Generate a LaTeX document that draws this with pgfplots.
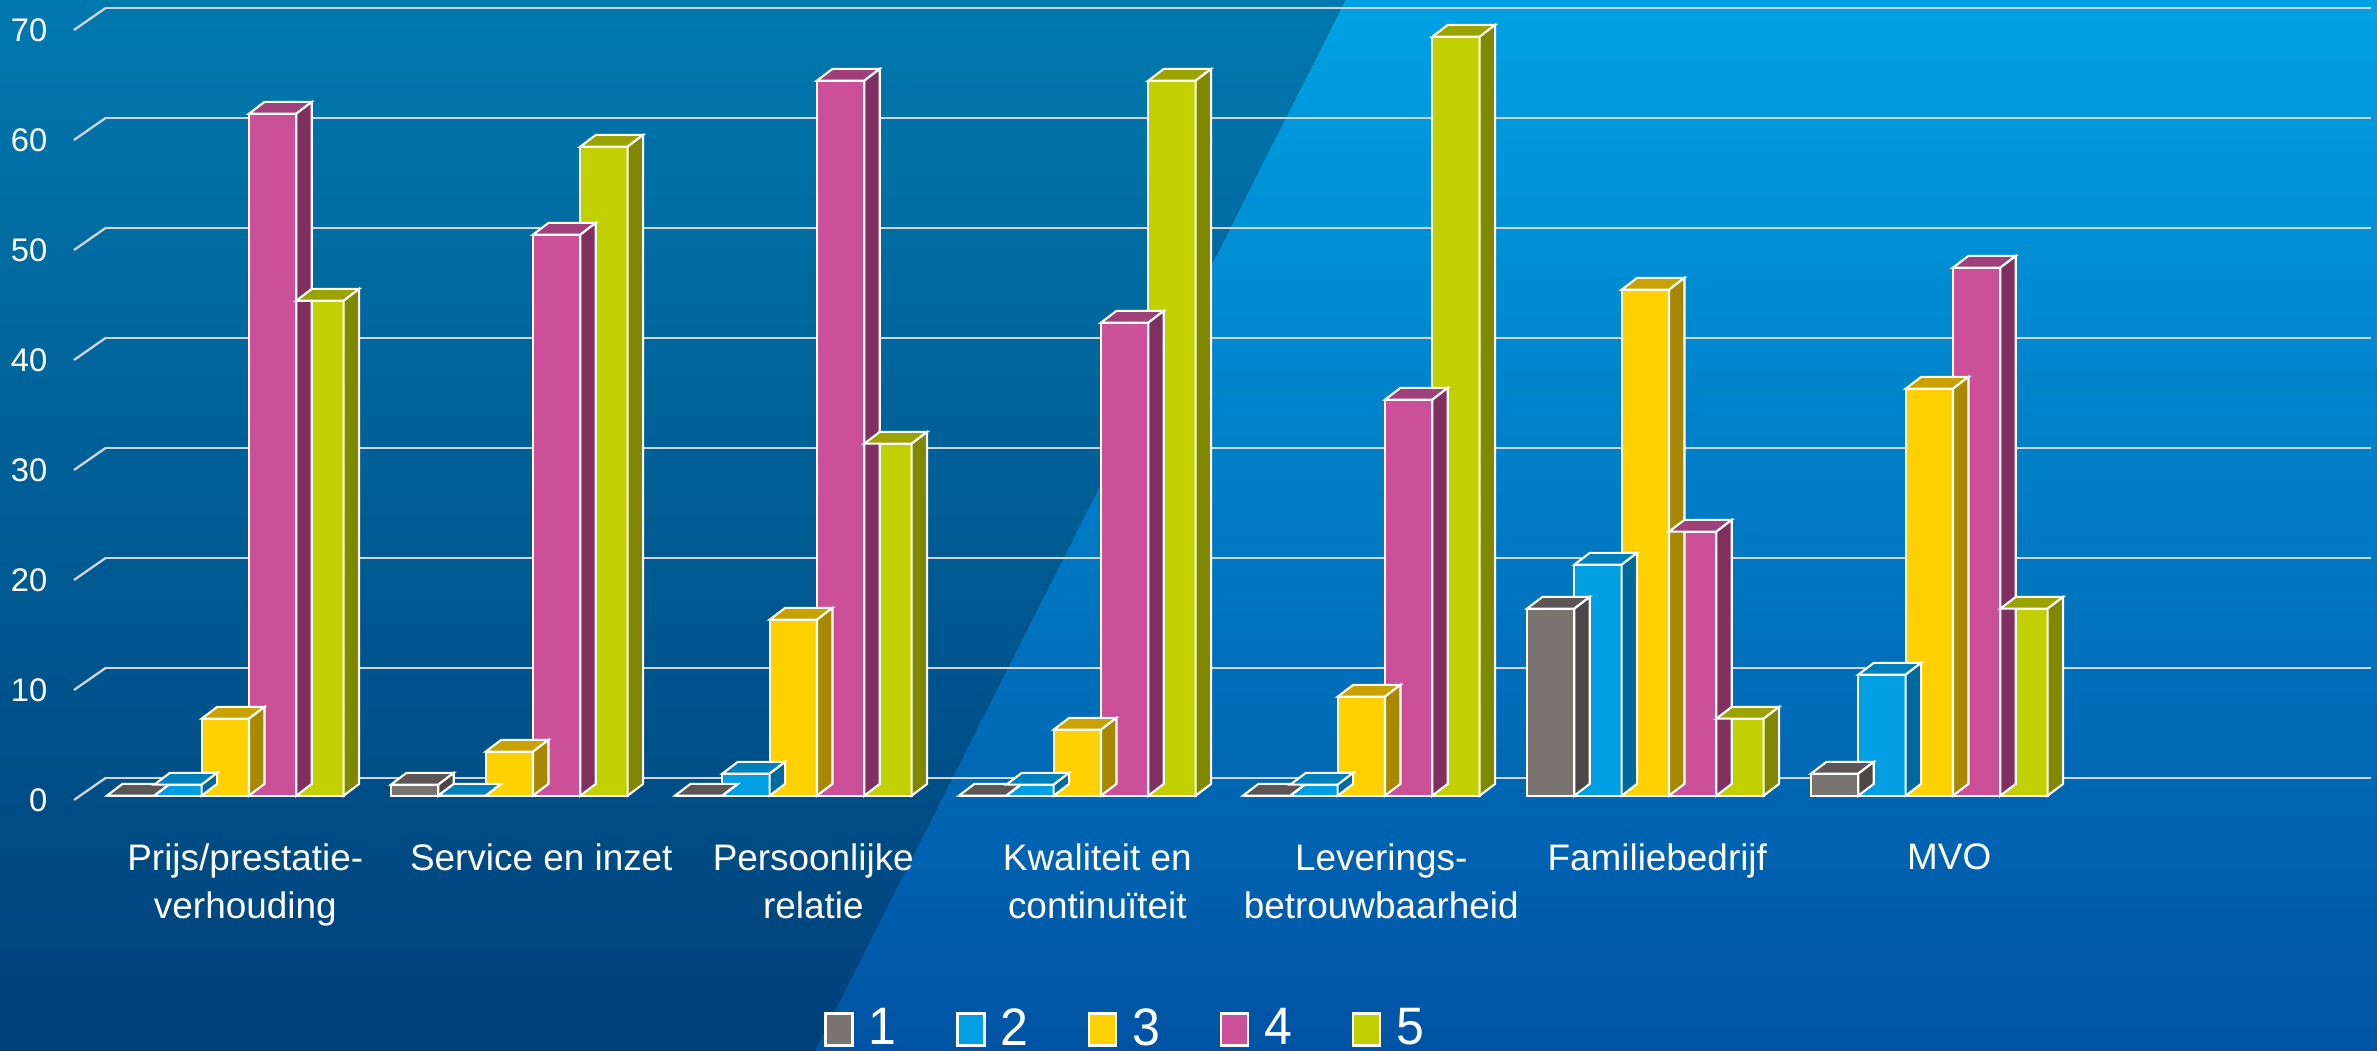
\documentclass[border=0pt]{standalone}
\usepackage{fontspec}
\setmainfont{Liberation Sans}
\usepackage{graphicx}
\usepackage{pgfplots}
\usepackage{pgfplotstable}
\pgfplotsset{compat=1.18}

\definecolor{bgLtop}{HTML}{0079AE}
\definecolor{bgLbot}{HTML}{00407A}
\definecolor{bgRtop}{HTML}{00A1E4}
\definecolor{bgRbot}{HTML}{0053A4}
\definecolor{gridc}{HTML}{D2D6DA}
\definecolor{c1f}{HTML}{7A7471}\definecolor{c1t}{HTML}{5C5756}\definecolor{c1s}{HTML}{4C4847}
\definecolor{c2f}{HTML}{009FE3}\definecolor{c2t}{HTML}{0080BA}\definecolor{c2s}{HTML}{006A9C}
\definecolor{c3f}{HTML}{FFD100}\definecolor{c3t}{HTML}{C9A200}\definecolor{c3s}{HTML}{A88800}
\definecolor{c4f}{HTML}{CB5097}\definecolor{c4t}{HTML}{A0407A}\definecolor{c4s}{HTML}{80305F}
\definecolor{c5f}{HTML}{C3D000}\definecolor{c5t}{HTML}{9AA300}\definecolor{c5s}{HTML}{808800}

\newlength\bwh \setlength\bwh{0.2367cm}
\newlength\ddx \setlength\ddx{0.155cm}
\newlength\ddy \setlength\ddy{0.118cm}
\newlength\yun \setlength\yun{0.11cm}
\newlength\hlen

\pgfdeclareplotmark{bartop}{%
 \pgfpathmoveto{\pgfpoint{-\bwh}{0pt}}%
 \pgfpathlineto{\pgfpoint{\bwh}{0pt}}%
 \pgfpathlineto{\pgfpoint{\dimexpr\bwh+\ddx\relax}{\ddy}}%
 \pgfpathlineto{\pgfpoint{\dimexpr-\bwh+\ddx\relax}{\ddy}}%
 \pgfpathclose
 \pgfusepathqfillstroke}
\pgfdeclareplotmark{barside}{%
 \begingroup
 \pgfkeys{/pgf/fpu=true,/pgf/fpu/output format=fixed}%
 \pgfmathparse{\hval*1}%
 \global\let\myhv\pgfmathresult
 \endgroup
 \setlength\hlen{\myhv\yun}%
 \pgfpathmoveto{\pgfpoint{\bwh}{0pt}}%
 \pgfpathlineto{\pgfpoint{\dimexpr\bwh+\ddx\relax}{\ddy}}%
 \pgfpathlineto{\pgfpoint{\dimexpr\bwh+\ddx\relax}{\dimexpr\ddy-\hlen\relax}}%
 \pgfpathlineto{\pgfpoint{\bwh}{-\hlen}}%
 \pgfpathclose
 \pgfusepathqfillstroke}

\pgfplotstableread{
x s1 s2 s3 s4 s5
0 0 1 7 62 45
1 1 0 4 51 59
2 0 2 16 65 32
3 0 1 6 43 65
4 0 1 9 36 69
5 17 21 46 24 7
6 2 11 37 48 17
}\datatable

% #1 column, #2 x offset, #3 front, #4 top, #5 side, #6 legend text
\newcommand\series[6]{%
 \addplot[ybar, bar width=0.4733cm, bar shift=0pt, fill=#3, draw=white, line width=0.6pt,
   legend image code/.code={\path[fill=#3, draw=white, line width=0.6pt] (0cm,-0.16cm) rectangle (0.27cm,0.16cm);}]
   table[x expr=\thisrow{x}+#2, y=#1] {\datatable};
 \addlegendentry{\hspace*{0.1cm}\scalebox{0.95}[1]{\fontsize{15}{15}\selectfont #6}}
 \addplot[only marks, mark=bartop, mark options={fill=#4, draw=white, line width=0.6pt}, forget plot]
   table[x expr=\thisrow{x}+#2, y=#1] {\datatable};
 \addplot[only marks, mark=barside, visualization depends on={\thisrow{#1} \as \hval},
   mark options={fill=#5, draw=white, line width=0.6pt}, forget plot]
   table[x expr=\thisrow{x}+#2, y=#1] {\datatable};
}

\begin{document}
\begin{tikzpicture}
\fill[bottom color=bgRbot, top color=bgRtop] (0,0) rectangle (23.77,10.51);
\fill[bottom color=bgLbot, top color=bgLtop] (0,0) -- (0,10.51) -- (13.45,10.51) -- (8.14,0) -- cycle;

\begin{axis}[at={(1.06cm,2.733cm)}, anchor=south west, scale only axis,
  width=22.65cm, height=7.70cm, xmin=0, xmax=1, ymin=0, ymax=70,
  ytick={0,10,...,70}, xtick=\empty, ymajorgrids,
  major grid style={draw=gridc, line width=0.65pt},
  axis line style={draw=none}, tick style={draw=none}, clip=false,
  yticklabel style={anchor=east, inner sep=0pt, xshift=-0.58cm, yshift=-0.23cm,
    font=\fontsize{9.3}{11}\selectfont, text=white},
  /pgf/number format/assume math mode=true]
\pgfplotsinvokeforeach{0,10,...,70}{\draw[gridc, line width=0.65pt] (axis cs:-0.01413,#1-2.03) -- (axis cs:0,#1);}
\end{axis}

\begin{axis}[at={(0.265cm,2.553cm)}, anchor=south west, scale only axis,
  width=23.288cm, height=7.70cm, xmin=-0.7, xmax=7.5, ymin=0, ymax=70,
  clip=false, axis line style={draw=none}, tick style={draw=none},
  ytick=\empty, xtick={0,...,6},
  xticklabels={{Prijs/prestatie-\\verhouding},{\hspace*{0.24cm}Service en inzet},{Persoonlijke\\relatie},{Kwaliteit en\\continuïteit},{Leverings-\\betrouwbaarheid},{Familiebedrijf\hspace*{0.16cm}},{MVO}},
  xticklabel style={anchor=north, align=center, inner sep=0pt, yshift=-0.47cm, xshift=0.2cm,
    text=white, font=\fontsize{10.5}{13.7}\selectfont},
  legend columns=5,
  legend style={at={(0.4725,-0.3036)}, anchor=center, draw=none, fill=none, text=white,
    nodes={inner sep=0.05cm},
    /tikz/every even column/.append style={column sep=0.55cm}},
]
\series{s1}{-2/6}{c1f}{c1t}{c1s}{1}
\series{s2}{-1/6}{c2f}{c2t}{c2s}{2}
\series{s3}{0}{c3f}{c3t}{c3s}{3}
\series{s4}{1/6}{c4f}{c4t}{c4s}{4}
\series{s5}{2/6}{c5f}{c5t}{c5s}{5}
\end{axis}
\pgfresetboundingbox
\path[use as bounding box] (0,0) rectangle (23.77,10.51);
\end{tikzpicture}
\end{document}
